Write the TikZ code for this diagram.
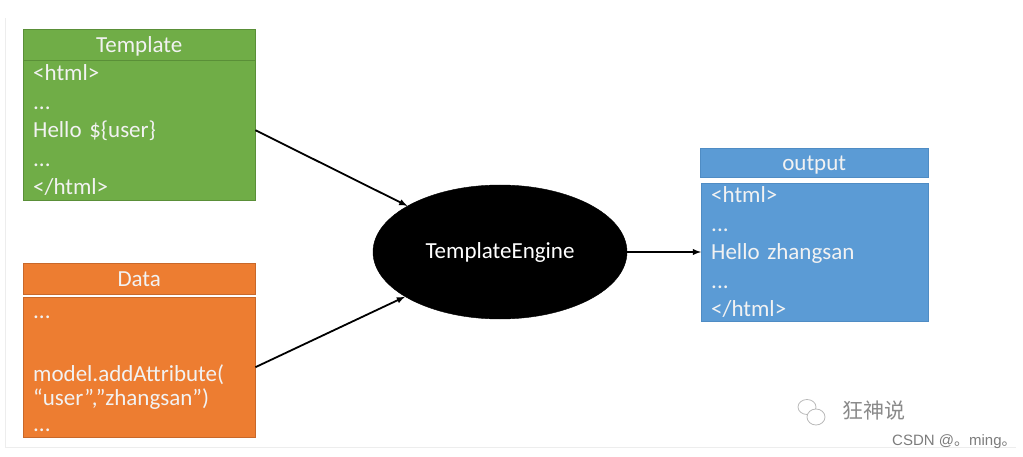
\documentclass[tikz,border=0pt]{standalone}
\usepackage{fontspec}
\setmainfont{Carlito}
\newfontfamily\cjkfont{Noto Sans CJK SC}
\newfontfamily\marksans{Liberation Sans}
\usepackage{xcolor}
\usetikzlibrary{arrows,shapes}

\definecolor{tplgreen}{HTML}{70AD47}
\definecolor{tplgreenline}{HTML}{5A8F38}
\definecolor{dataorange}{HTML}{ED7D31}
\definecolor{dataorangeline}{HTML}{C8682A}
\definecolor{outblue}{HTML}{5B9BD5}
\definecolor{outblueline}{HTML}{4F8CC4}
\definecolor{markgray}{HTML}{8A8A8A}

\begin{document}
\begin{tikzpicture}[x=1pt,y=-1pt,
        boxtext/.style={text=white!95!black, font=\fontsize{23}{28.5}\selectfont},
        head/.style={boxtext, rectangle, anchor=north west, inner sep=0pt,
            text height=17pt, text depth=1.5pt,
            minimum width=232pt, minimum height=31pt},
        body/.style={boxtext, rectangle, anchor=north west, inner xsep=10pt,
            text width=212pt, align=left, minimum height=140pt},
        link/.style={-latex, line width=1.8pt}]
        \useasboundingbox (0,0) rectangle (1023,457);
        \draw[black!7] (5,18) -- (5,447) -- (1016,447);
        % template
        \node[head, fill=tplgreen, draw=tplgreenline] (tplhead) at (23,29) {Template};
        \node[body, fill=tplgreen, draw=tplgreenline] (tplbody) at (23,60)
            {<html>\\...\\Hello \$\{user\}\\...\\</html>};
        % data
        \node[head, fill=dataorange, draw=dataorangeline] (datahead) at (23,263) {Data};
        \node[body, fill=dataorange, draw=dataorangeline] (databody) at (23,297)
            {\vphantom{l}...\\[34.5pt]model.addAttribute(\\[-4.5pt]“user”,”zhangsan”)\\[-2.5pt]...};
        % engine
        \node[ellipse, fill=black, draw=black, text=white, minimum width=254pt,
            minimum height=134pt, font=\fontsize{23}{28.5}\selectfont] (engine) at (500,252) {TemplateEngine};
        % output
        \node[head, fill=outblue, draw=outblueline, minimum width=228pt,
            minimum height=29pt] (outhead) at (700,148) {output};
        \node[body, fill=outblue, draw=outblueline, text width=207pt,
            minimum height=137pt] (outbody) at (701,183)
            {<html>\\...\\Hello zhangsan\\...\\</html>};
        \draw[link] (tplbody.east) -- (engine);
        \draw[link] (databody.east) -- (engine);
        \draw[link] (engine.east) -- (outbody.west);
        % watermark
        \draw[markgray!60, line width=0.8pt] (807,407) ellipse (9pt and 7.5pt);
        \draw[markgray!60, line width=0.8pt, fill=white] (816,417) ellipse (9pt and 8pt);
        \node[text=markgray, font=\cjkfont\fontsize{21}{21}\selectfont] (mark) at (874,411) {狂神说};
        \node[text=markgray!90!black, anchor=base west, inner sep=0pt,
            font=\marksans\fontsize{15}{15}\selectfont] (csdn) at (892,445)
            {CSDN @{\cjkfont 。}ming{\cjkfont\makebox[0.5em][l]{。}}};
\end{tikzpicture}
\end{document}
